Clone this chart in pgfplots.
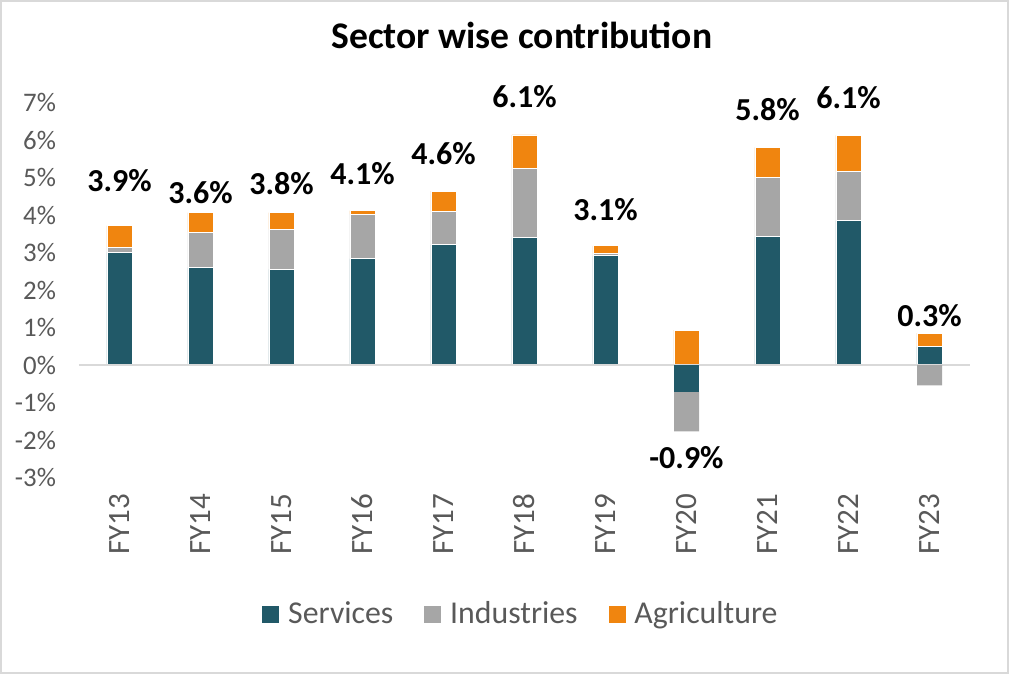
\documentclass[border=0pt]{standalone}
\usepackage{fontspec}
\setmainfont{Carlito}
\usepackage{pgfplots}
\pgfplotsset{compat=1.18}
\definecolor{cServ}{HTML}{215968}
\definecolor{cInd}{HTML}{A6A6A6}
\definecolor{cAgr}{HTML}{F0850F}
\definecolor{cTxt}{HTML}{595959}
\definecolor{cGrid}{HTML}{D9D9D9}

\pgfplotsset{
  base/.style={
    scale only axis, width=445.5pt, height=187.4pt,
    xmin=-0.5, xmax=10.5, ymin=-3, ymax=7,
    axis line style={draw=none}, major tick length=0pt, clip=false,
  },
}

\begin{document}
\begin{tikzpicture}
% positive contributions, stacked from zero upwards
\begin{axis}[base, name=ax,
  ybar stacked, bar width=12.5pt,
  xtick={0,...,10},
  xticklabels={FY13,FY14,FY15,FY16,FY17,FY18,FY19,FY20,FY21,FY22,FY23},
  xticklabel style={yshift=-4.5pt, rotate=90, anchor=east, font=\fontsize{15.5}{16}\selectfont, text=cTxt},
  ytick={-3,...,7},
  yticklabel={\pgfmathprintnumber{\tick}\%},
  yticklabel style={font=\fontsize{13.4}{14}\selectfont, text=cTxt, xshift=-8pt},
  /pgf/number format/assume math mode=true,
  title={Sector wise contribution},
  title style={at={(axis description cs:0.497,1.1138)}, anchor=base,
    font=\bfseries\fontsize{18.8}{20}\selectfont},
  legend style={at={(0.4966,-0.364)}, anchor=center, draw=none, fill=none,
    legend columns=-1, font=\fontsize{15.9}{16}\selectfont, text=cTxt,
    /tikz/every odd column/.append style={column sep=2pt},
    /tikz/every even column/.append style={column sep=13pt}},
  legend image code/.code={\fill[#1] (0pt,-4.5pt) rectangle (9pt,4.5pt);},
]
\draw[cGrid, line width=1pt] (axis cs:-0.5,0) -- (axis cs:10.5,0);
\addplot[fill=cServ, draw=white, line width=0.4pt] coordinates {
  (0,3.00) (1,2.60) (2,2.55) (3,2.84) (4,3.21) (5,3.40)
  (6,2.92) (7,0) (8,3.43) (9,3.85) (10,0.49)};
\addplot[fill=cInd, draw=white, line width=0.4pt] coordinates {
  (0,0.15) (1,0.94) (2,1.08) (3,1.19) (4,0.90) (5,1.85)
  (6,0.05) (7,0) (8,1.57) (9,1.31) (10,0)};
\addplot[fill=cAgr, draw=white, line width=0.4pt] coordinates {
  (0,0.57) (1,0.53) (2,0.44) (3,0.09) (4,0.53) (5,0.89)
  (6,0.21) (7,0.93) (8,0.81) (9,0.97) (10,0.36)};
\legend{Services, Industries, Agriculture}
\end{axis}

% negative contributions, stacked from zero downwards
\begin{axis}[base, hide axis, at={(ax.south west)}, anchor=south west,
  ybar stacked, bar width=12.5pt]
\addplot[fill=cServ, draw=none] coordinates {
  (0,0) (1,0) (2,0) (3,0) (4,0) (5,0)
  (6,0) (7,-0.71) (8,0) (9,0) (10,0)};
\addplot[fill=cInd, draw=none] coordinates {
  (0,0) (1,0) (2,0) (3,0) (4,0) (5,0)
  (6,0) (7,-1.06) (8,0) (9,0) (10,-0.54)};
\end{axis}

% total labels
\begin{axis}[base, hide axis, at={(ax.south west)}, anchor=south west]
\addplot[draw=none, mark=none, nodes near coords, point meta=explicit symbolic,
  every node near coord/.append style={inner sep=0pt, text=black,
    font=\bfseries\fontsize{16}{17}\selectfont}] coordinates {
  (0,4.60) [3.9\%]
  (1,4.30) [3.6\%]
  (2,4.54) [3.8\%]
  (3,4.80) [4.1\%]
  (4,5.34) [4.6\%]
  (5,6.86) [6.1\%]
  (6,3.85) [3.1\%]
  (7,-2.775) [-0.9\%]
  (8,6.52) [5.8\%]
  (9,6.83) [6.1\%]
  (10,1.01) [0.3\%]
};
\end{axis}

\draw[cGrid, line width=0.8pt] ([xshift=-39.1pt, yshift=-97.85pt]ax.south west) rectangle ++(503.7pt,336.2pt);
\end{tikzpicture}
\end{document}
